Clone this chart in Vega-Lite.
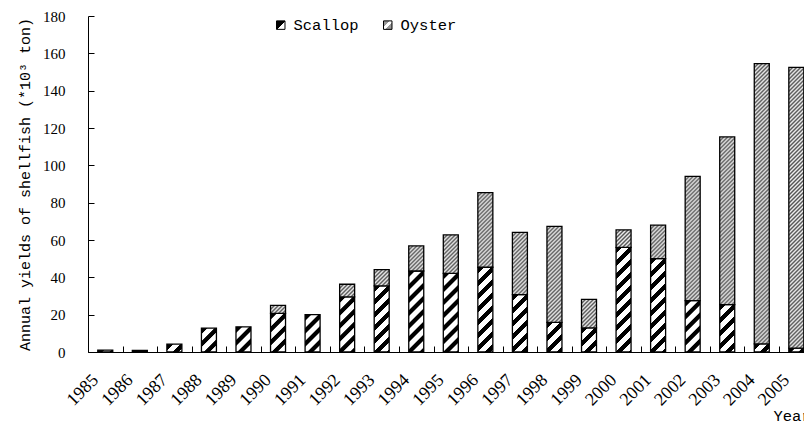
{
  "$schema": "https://vega.github.io/schema/vega-lite/v6.json",
  "autosize": {"type": "none"},
  "padding": {"left": 88, "top": 16, "right": 0, "bottom": 71},
  "width": 716,
  "height": 336,
  "background": "white",
  "params": [
    {"name": "scallopStops", "value": [
      {"offset":0,"color":"#fff"},{"offset":0.004,"color":"#000"},{"offset":0.046,"color":"#000"},{"offset":0.05,"color":"#fff"},
      {"offset":0.1,"color":"#fff"},{"offset":0.104,"color":"#000"},{"offset":0.146,"color":"#000"},{"offset":0.15,"color":"#fff"},
      {"offset":0.2,"color":"#fff"},{"offset":0.204,"color":"#000"},{"offset":0.246,"color":"#000"},{"offset":0.25,"color":"#fff"},
      {"offset":0.3,"color":"#fff"},{"offset":0.304,"color":"#000"},{"offset":0.346,"color":"#000"},{"offset":0.35,"color":"#fff"},
      {"offset":0.4,"color":"#fff"},{"offset":0.404,"color":"#000"},{"offset":0.446,"color":"#000"},{"offset":0.45,"color":"#fff"},
      {"offset":0.5,"color":"#fff"},{"offset":0.504,"color":"#000"},{"offset":0.546,"color":"#000"},{"offset":0.55,"color":"#fff"},
      {"offset":0.6,"color":"#fff"},{"offset":0.604,"color":"#000"},{"offset":0.646,"color":"#000"},{"offset":0.65,"color":"#fff"},
      {"offset":0.7,"color":"#fff"},{"offset":0.704,"color":"#000"},{"offset":0.746,"color":"#000"},{"offset":0.75,"color":"#fff"},
      {"offset":0.8,"color":"#fff"},{"offset":0.804,"color":"#000"},{"offset":0.846,"color":"#000"},{"offset":0.85,"color":"#fff"},
      {"offset":0.9,"color":"#fff"},{"offset":0.904,"color":"#000"},{"offset":0.946,"color":"#000"},{"offset":0.95,"color":"#fff"},
      {"offset":1,"color":"#fff"}
    ]},
    {"name": "oysterStops", "value": [
      {"offset":0,"color":"#555"},{"offset":0.00625,"color":"#eee"},{"offset":0.0125,"color":"#555"},{"offset":0.01875,"color":"#eee"},{"offset":0.025,"color":"#555"},{"offset":0.03125,"color":"#eee"},{"offset":0.0375,"color":"#555"},{"offset":0.04375,"color":"#eee"},
      {"offset":0.05,"color":"#555"},{"offset":0.05625,"color":"#eee"},{"offset":0.0625,"color":"#555"},{"offset":0.06875,"color":"#eee"},{"offset":0.075,"color":"#555"},{"offset":0.08125,"color":"#eee"},{"offset":0.0875,"color":"#555"},{"offset":0.09375,"color":"#eee"},
      {"offset":0.1,"color":"#555"},{"offset":0.10625,"color":"#eee"},{"offset":0.1125,"color":"#555"},{"offset":0.11875,"color":"#eee"},{"offset":0.125,"color":"#555"},{"offset":0.13125,"color":"#eee"},{"offset":0.1375,"color":"#555"},{"offset":0.14375,"color":"#eee"},
      {"offset":0.15,"color":"#555"},{"offset":0.15625,"color":"#eee"},{"offset":0.1625,"color":"#555"},{"offset":0.16875,"color":"#eee"},{"offset":0.175,"color":"#555"},{"offset":0.18125,"color":"#eee"},{"offset":0.1875,"color":"#555"},{"offset":0.19375,"color":"#eee"},
      {"offset":0.2,"color":"#555"},{"offset":0.20625,"color":"#eee"},{"offset":0.2125,"color":"#555"},{"offset":0.21875,"color":"#eee"},{"offset":0.225,"color":"#555"},{"offset":0.23125,"color":"#eee"},{"offset":0.2375,"color":"#555"},{"offset":0.24375,"color":"#eee"},
      {"offset":0.25,"color":"#555"},{"offset":0.25625,"color":"#eee"},{"offset":0.2625,"color":"#555"},{"offset":0.26875,"color":"#eee"},{"offset":0.275,"color":"#555"},{"offset":0.28125,"color":"#eee"},{"offset":0.2875,"color":"#555"},{"offset":0.29375,"color":"#eee"},
      {"offset":0.3,"color":"#555"},{"offset":0.30625,"color":"#eee"},{"offset":0.3125,"color":"#555"},{"offset":0.31875,"color":"#eee"},{"offset":0.325,"color":"#555"},{"offset":0.33125,"color":"#eee"},{"offset":0.3375,"color":"#555"},{"offset":0.34375,"color":"#eee"},
      {"offset":0.35,"color":"#555"},{"offset":0.35625,"color":"#eee"},{"offset":0.3625,"color":"#555"},{"offset":0.36875,"color":"#eee"},{"offset":0.375,"color":"#555"},{"offset":0.38125,"color":"#eee"},{"offset":0.3875,"color":"#555"},{"offset":0.39375,"color":"#eee"},
      {"offset":0.4,"color":"#555"},{"offset":0.40625,"color":"#eee"},{"offset":0.4125,"color":"#555"},{"offset":0.41875,"color":"#eee"},{"offset":0.425,"color":"#555"},{"offset":0.43125,"color":"#eee"},{"offset":0.4375,"color":"#555"},{"offset":0.44375,"color":"#eee"},
      {"offset":0.45,"color":"#555"},{"offset":0.45625,"color":"#eee"},{"offset":0.4625,"color":"#555"},{"offset":0.46875,"color":"#eee"},{"offset":0.475,"color":"#555"},{"offset":0.48125,"color":"#eee"},{"offset":0.4875,"color":"#555"},{"offset":0.49375,"color":"#eee"},
      {"offset":0.5,"color":"#555"},{"offset":0.50625,"color":"#eee"},{"offset":0.5125,"color":"#555"},{"offset":0.51875,"color":"#eee"},{"offset":0.525,"color":"#555"},{"offset":0.53125,"color":"#eee"},{"offset":0.5375,"color":"#555"},{"offset":0.54375,"color":"#eee"},
      {"offset":0.55,"color":"#555"},{"offset":0.55625,"color":"#eee"},{"offset":0.5625,"color":"#555"},{"offset":0.56875,"color":"#eee"},{"offset":0.575,"color":"#555"},{"offset":0.58125,"color":"#eee"},{"offset":0.5875,"color":"#555"},{"offset":0.59375,"color":"#eee"},
      {"offset":0.6,"color":"#555"},{"offset":0.60625,"color":"#eee"},{"offset":0.6125,"color":"#555"},{"offset":0.61875,"color":"#eee"},{"offset":0.625,"color":"#555"},{"offset":0.63125,"color":"#eee"},{"offset":0.6375,"color":"#555"},{"offset":0.64375,"color":"#eee"},
      {"offset":0.65,"color":"#555"},{"offset":0.65625,"color":"#eee"},{"offset":0.6625,"color":"#555"},{"offset":0.66875,"color":"#eee"},{"offset":0.675,"color":"#555"},{"offset":0.68125,"color":"#eee"},{"offset":0.6875,"color":"#555"},{"offset":0.69375,"color":"#eee"},
      {"offset":0.7,"color":"#555"},{"offset":0.70625,"color":"#eee"},{"offset":0.7125,"color":"#555"},{"offset":0.71875,"color":"#eee"},{"offset":0.725,"color":"#555"},{"offset":0.73125,"color":"#eee"},{"offset":0.7375,"color":"#555"},{"offset":0.74375,"color":"#eee"},
      {"offset":0.75,"color":"#555"},{"offset":0.75625,"color":"#eee"},{"offset":0.7625,"color":"#555"},{"offset":0.76875,"color":"#eee"},{"offset":0.775,"color":"#555"},{"offset":0.78125,"color":"#eee"},{"offset":0.7875,"color":"#555"},{"offset":0.79375,"color":"#eee"},
      {"offset":0.8,"color":"#555"},{"offset":0.80625,"color":"#eee"},{"offset":0.8125,"color":"#555"},{"offset":0.81875,"color":"#eee"},{"offset":0.825,"color":"#555"},{"offset":0.83125,"color":"#eee"},{"offset":0.8375,"color":"#555"},{"offset":0.84375,"color":"#eee"},
      {"offset":0.85,"color":"#555"},{"offset":0.85625,"color":"#eee"},{"offset":0.8625,"color":"#555"},{"offset":0.86875,"color":"#eee"},{"offset":0.875,"color":"#555"},{"offset":0.88125,"color":"#eee"},{"offset":0.8875,"color":"#555"},{"offset":0.89375,"color":"#eee"},
      {"offset":0.9,"color":"#555"},{"offset":0.90625,"color":"#eee"},{"offset":0.9125,"color":"#555"},{"offset":0.91875,"color":"#eee"},{"offset":0.925,"color":"#555"},{"offset":0.93125,"color":"#eee"},{"offset":0.9375,"color":"#555"},{"offset":0.94375,"color":"#eee"},
      {"offset":0.95,"color":"#555"},{"offset":0.95625,"color":"#eee"},{"offset":0.9625,"color":"#555"},{"offset":0.96875,"color":"#eee"},{"offset":0.975,"color":"#555"},{"offset":0.98125,"color":"#eee"},{"offset":0.9875,"color":"#555"},{"offset":0.99375,"color":"#eee"},
      {"offset":1,"color":"#555"}
    ]}
  ],
  "data": {"values": [
    {"year": "1985", "species": "Scallop", "tons": 1.0},
    {"year": "1986", "species": "Scallop", "tons": 0.8},
    {"year": "1987", "species": "Scallop", "tons": 4.2},
    {"year": "1988", "species": "Scallop", "tons": 12.8},
    {"year": "1989", "species": "Scallop", "tons": 13.5},
    {"year": "1990", "species": "Scallop", "tons": 20.7},
    {"year": "1990", "species": "Oyster", "tons": 4.3},
    {"year": "1991", "species": "Scallop", "tons": 20.0},
    {"year": "1992", "species": "Scallop", "tons": 29.5},
    {"year": "1992", "species": "Oyster", "tons": 6.8},
    {"year": "1993", "species": "Scallop", "tons": 35.4},
    {"year": "1993", "species": "Oyster", "tons": 8.7},
    {"year": "1994", "species": "Scallop", "tons": 43.4},
    {"year": "1994", "species": "Oyster", "tons": 13.4},
    {"year": "1995", "species": "Scallop", "tons": 42.1},
    {"year": "1995", "species": "Oyster", "tons": 20.6},
    {"year": "1996", "species": "Scallop", "tons": 45.4},
    {"year": "1996", "species": "Oyster", "tons": 40.0},
    {"year": "1997", "species": "Scallop", "tons": 30.7},
    {"year": "1997", "species": "Oyster", "tons": 33.4},
    {"year": "1998", "species": "Scallop", "tons": 15.9},
    {"year": "1998", "species": "Oyster", "tons": 51.4},
    {"year": "1999", "species": "Scallop", "tons": 12.9},
    {"year": "1999", "species": "Oyster", "tons": 15.3},
    {"year": "2000", "species": "Scallop", "tons": 56.1},
    {"year": "2000", "species": "Oyster", "tons": 9.3},
    {"year": "2001", "species": "Scallop", "tons": 50.0},
    {"year": "2001", "species": "Oyster", "tons": 18.0},
    {"year": "2002", "species": "Scallop", "tons": 27.5},
    {"year": "2002", "species": "Oyster", "tons": 66.6},
    {"year": "2003", "species": "Scallop", "tons": 25.4},
    {"year": "2003", "species": "Oyster", "tons": 89.8},
    {"year": "2004", "species": "Scallop", "tons": 4.3},
    {"year": "2004", "species": "Oyster", "tons": 150.2},
    {"year": "2005", "species": "Scallop", "tons": 2.1},
    {"year": "2005", "species": "Oyster", "tons": 150.4}
  ]},
  "mark": {
    "type": "bar",
    "width": 15,
    "strokeWidth": 1.3,
    "fill": {"expr": "isDefined(datum.value) ? (datum.value === 'Scallop' ? {gradient: 'linear', x1: 0, y1: 0, x2: 1, y2: 1, stops: [{offset: 0, color: '#000'}, {offset: 0.55, color: '#000'}, {offset: 0.55, color: '#fff'}, {offset: 1, color: '#fff'}]} : {gradient: 'linear', x1: 0, y1: 0, x2: 1, y2: 1, stops: [{offset: 0, color: '#999'}, {offset: 0.38, color: '#999'}, {offset: 0.38, color: '#fff'}, {offset: 0.62, color: '#fff'}, {offset: 0.62, color: '#999'}, {offset: 1, color: '#999'}]}) : (datum.species === 'Scallop' ? {gradient: 'linear', x1: 0, y1: 0, x2: 1951.6/(225+pow(abs(scale('y',datum.tons_start)-scale('y',datum.tons_end)),2)), y2: 130.11*abs(scale('y',datum.tons_start)-scale('y',datum.tons_end))/(225+pow(abs(scale('y',datum.tons_start)-scale('y',datum.tons_end)),2)), stops: scallopStops} : {gradient: 'linear', x1: 0, y1: 0, x2: 4794/(225+pow(abs(scale('y',datum.tons_start)-scale('y',datum.tons_end)),2)), y2: 319.6*abs(scale('y',datum.tons_start)-scale('y',datum.tons_end))/(225+pow(abs(scale('y',datum.tons_start)-scale('y',datum.tons_end)),2)), stops: oysterStops})"}
  },
  "encoding": {
    "x": {
      "field": "year",
      "type": "ordinal",
      "scale": {"range": [0, 725.6], "paddingInner": 0, "paddingOuter": 0},
      "axis": {
        "title": "Year",
        "tickBand": "extent",
        "tickSize": -6,
        "tickColor": "#000",
        "domainColor": "#000",
        "labelAngle": -45,
        "labelAlign": "right",
        "labelBaseline": "middle",
        "labelPadding": 31,
        "labelOffset": -10,
        "labelFont": "Liberation Serif",
        "labelFontSize": 18,
        "labelColor": "#000",
        "titleFont": "Liberation Mono",
        "titleFontSize": 15.5,
        "titleFontWeight": "normal",
        "titleColor": "#000",
        "titleX": 685,
        "titleY": 68,
        "titleAlign": "left",
        "titleBaseline": "alphabetic"
      }
    },
    "y": {
      "field": "tons",
      "type": "quantitative",
      "stack": "zero",
      "scale": {"domain": [0, 180], "nice": false},
      "axis": {
        "title": "Annual yields of shellfish (*10³ ton)",
        "values": [0, 20, 40, 60, 80, 100, 120, 140, 160, 180],
        "grid": false,
        "tickSize": -6,
        "tickColor": "#000",
        "domainColor": "#000",
        "labelPadding": 29,
        "labelFont": "Liberation Serif",
        "labelFontSize": 15,
        "labelColor": "#000",
        "titleFont": "Liberation Mono",
        "titleFontSize": 15,
        "titleFontWeight": "normal",
        "titleColor": "#000",
        "titleX": -64,
        "titleY": 168,
        "titleAngle": 270,
        "titleAlign": "center",
        "titleBaseline": "middle"
      }
    },
    "stroke": {
      "field": "species",
      "type": "nominal",
      "scale": {"domain": ["Scallop", "Oyster"], "range": ["#000", "#000"]},
      "legend": {
        "title": null,
        "orient": "none",
        "legendX": 185,
        "legendY": 1,
        "direction": "horizontal",
        "symbolType": "square",
        "symbolSize": 72,
        "symbolStrokeWidth": 1,
        "labelFont": "Liberation Mono",
        "labelFontSize": 15.5,
        "labelColor": "#000",
        "labelOffset": 5,
        "columnPadding": 21,
        "padding": 0
      }
    },
    "order": {"field": "species", "sort": "descending"}
  },
  "config": {"view": {"stroke": null}}
}
